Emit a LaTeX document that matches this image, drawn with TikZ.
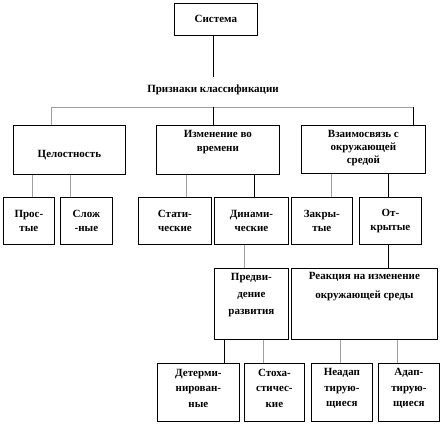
\documentclass[tikz,border=0pt]{standalone}
\usepackage{fontspec}
\setmainfont{Liberation Serif}
\begin{document}
\begin{tikzpicture}[x=1pt,y=-1pt,font=\fontsize{11}{14}\selectfont\bfseries,
  box/.style n args={2}{draw,line width=0.8pt,minimum width=#1,minimum height=#2,anchor=north west,inner sep=0pt},
  txt/.style={align=center,inner sep=0pt},
  link/.style={line width=0.8pt},
  glink/.style={line width=0.8pt,gray!75}]
\useasboundingbox (0,0) rectangle (444,426);
% top level
\node[box={83pt}{32pt},label={[txt]center:Система}] (sys) at (174,3) {};
\node[txt] (priz) at (213,90) {Признаки классификации};
\coordinate (barL) at (51,107);
\coordinate (barM) at (213,107);
\coordinate (barR) at (413,107);
\draw[link] (sys.south -| barM) -- (213,77);
% second level
\node[box={112pt}{49pt},label={[txt,yshift=-5pt]center:Целостность}] (cel) at (13,125) {};
\node[box={123pt}{49pt},label={[txt,yshift=8pt]center:Изменение во\\времени}] (izm) at (156,125) {};
\node[box={124pt}{48pt},label={[txt,yshift=1pt,font=\fontsize{11}{13}\selectfont\bfseries]center:Взаимосвязь с\\окружающей\\средой}] (vz) at (301,125) {};
\draw[glink] (cel.north -| barL) -- (barL) -- (barR);
\draw[link] (barM) -- (izm.north -| barM);
\draw[link] (barR) -- (vz.north -| barR);
% third level
\node[box={51pt}{47pt},label={[txt]center:Прос-\\тые}] (prost) at (3,197) {};
\node[box={52pt}{47pt},label={[txt]center:Слож\\-ные}] (slozh) at (60,197) {};
\node[box={73pt}{47pt},label={[txt]center:Стати-\\ческие}] (stat) at (138,197) {};
\node[box={74pt}{47pt},label={[txt]center:Динами-\\ческие}] (din) at (214,197) {};
\node[box={61pt}{47pt},label={[txt]center:Закры-\\тые}] (zakr) at (291,197) {};
\node[box={62pt}{47pt},label={[txt]center:От-\\крытые}] (otkr) at (359,197) {};
\foreach \a/\b/\x/\s in {cel/prost/32/glink,cel/slozh/70/glink,izm/stat/186/glink,izm/din/254/link,vz/zakr/331/glink,vz/otkr/388/link}
  \draw[\s] (\a.south -| \x,0) -- (\b.north -| \x,0);
% fourth level
\node[box={74pt}{71pt},label={[txt,yshift=9pt,font=\fontsize{11}{17}\selectfont\bfseries]center:Предви-\\дение\\развития}] (pred) at (214,268) {};
\node[box={146pt}{71pt},label={[txt,yshift=17pt,font=\fontsize{11}{19}\selectfont\bfseries]center:Реакция на изменение\\окружающей среды}] (reak) at (291,268) {};
\draw[glink] (din.south -| 244,0) -- (pred.north -| 244,0);
\draw[link] (otkr.south -| 388,0) -- (reak.north -| 388,0);
% bottom level
\node[box={82pt}{58pt},label={[txt,yshift=4pt,font=\fontsize{11}{15.5}\selectfont\bfseries]center:Детерми-\\нирован-\\ные}] (det) at (157,363) {};
\node[box={60pt}{58pt},label={[txt,yshift=4pt,font=\fontsize{11}{15.5}\selectfont\bfseries]center:Стоха-\\стичес-\\кие}] (stoh) at (244,363) {};
\node[box={61pt}{58pt},label={[txt,yshift=4pt,font=\fontsize{11}{15.5}\selectfont\bfseries]center:Неадап\\тирую-\\щиеся}] (neadap) at (311,363) {};
\node[box={61pt}{58pt},label={[txt,yshift=4pt,font=\fontsize{11}{15.5}\selectfont\bfseries]center:Адап-\\тирую-\\щиеся}] (adap) at (378,363) {};
\foreach \a/\b/\x/\s in {pred/det/224/link,pred/stoh/263/glink,reak/neadap/340/glink,reak/adap/397/glink}
  \draw[\s] (\a.south -| \x,0) -- (\b.north -| \x,0);
\end{tikzpicture}
\end{document}
